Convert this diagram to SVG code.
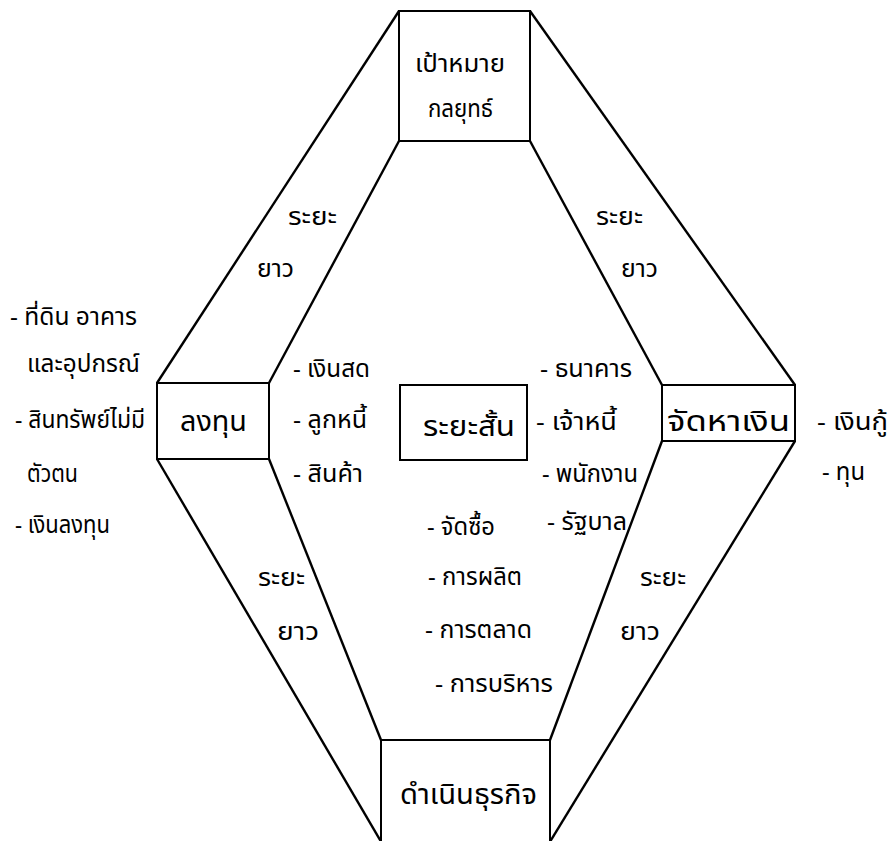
<svg xmlns="http://www.w3.org/2000/svg" width="890" height="841" viewBox="0 0 890 841">
<style>
text{font-family:"Noto Sans Thai","Noto Sans","DejaVu Sans",sans-serif;font-size:24px;fill:#000}
text.big{font-size:28px}
.box{fill:none;stroke:#000;stroke-width:2}
.edge{stroke:#000;stroke-width:2.4;fill:none}
</style>
<rect width="890" height="841" fill="#fff"/>
<g id="connectors">
<line class="edge" x1="399" y1="11" x2="157" y2="383"/>
<line class="edge" x1="399" y1="141" x2="269" y2="383"/>
<line class="edge" x1="530" y1="11" x2="795" y2="385"/>
<line class="edge" x1="530" y1="141" x2="662" y2="385"/>
<line class="edge" x1="157" y1="459" x2="383" y2="845"/>
<line class="edge" x1="269" y1="459" x2="381" y2="740"/>
<line class="edge" x1="662" y1="441" x2="550" y2="740"/>
<line class="edge" x1="795" y1="441" x2="548" y2="845"/>
</g>
<g id="labels-edges">
<text x="288" y="225" textLength="49" lengthAdjust="spacingAndGlyphs">ระยะ</text>
<text x="257" y="277" textLength="37" lengthAdjust="spacingAndGlyphs">ยาว</text>
<text x="596" y="225" textLength="47" lengthAdjust="spacingAndGlyphs">ระยะ</text>
<text x="621" y="277" textLength="37" lengthAdjust="spacingAndGlyphs">ยาว</text>
<text x="258" y="586" textLength="47" lengthAdjust="spacingAndGlyphs">ระยะ</text>
<text x="277" y="640" textLength="42" lengthAdjust="spacingAndGlyphs">ยาว</text>
<text x="640" y="586" textLength="46" lengthAdjust="spacingAndGlyphs">ระยะ</text>
<text x="620" y="640" textLength="40" lengthAdjust="spacingAndGlyphs">ยาว</text>
</g>
<g id="node-goal">
<rect class="box" x="399" y="11" width="131" height="130"/>
<text x="415" y="72" textLength="90" lengthAdjust="spacingAndGlyphs">เป้าหมาย</text>
<text x="428" y="117" textLength="65" lengthAdjust="spacingAndGlyphs">กลยุทธ์</text>
</g>
<g id="node-invest">
<rect class="box" x="157" y="383" width="112" height="76"/>
<text class="big" x="180" y="431" textLength="67" lengthAdjust="spacingAndGlyphs">ลงทุน</text>
</g>
<g id="node-finance">
<rect class="box" x="662" y="385" width="133" height="56"/>
<text class="big" x="667" y="431" textLength="123" lengthAdjust="spacingAndGlyphs">จัดหาเงิน</text>
</g>
<g id="node-short">
<rect class="box" x="400" y="385" width="127" height="75"/>
<text class="big" x="423" y="436" textLength="92" lengthAdjust="spacingAndGlyphs">ระยะสั้น</text>
</g>
<g id="node-operate">
<rect class="box" x="381" y="740" width="169" height="110"/>
<text class="big" x="400" y="804" textLength="137" lengthAdjust="spacingAndGlyphs">ดำเนินธุรกิจ</text>
</g>
<g id="list-invest-long">
<text x="10" y="325" textLength="127" lengthAdjust="spacingAndGlyphs">- ที่ดิน อาคาร</text>
<text x="27" y="372" textLength="113" lengthAdjust="spacingAndGlyphs">และอุปกรณ์</text>
<text x="15" y="428" textLength="130" lengthAdjust="spacingAndGlyphs">- สินทรัพย์ไม่มี</text>
<text x="27" y="482" textLength="51" lengthAdjust="spacingAndGlyphs">ตัวตน</text>
<text x="15" y="533" textLength="95" lengthAdjust="spacingAndGlyphs">- เงินลงทุน</text>
</g>
<g id="list-invest-short">
<text x="293" y="377" textLength="77" lengthAdjust="spacingAndGlyphs">- เงินสด</text>
<text x="293" y="428" textLength="74" lengthAdjust="spacingAndGlyphs">- ลูกหนี้</text>
<text x="293" y="482" textLength="70" lengthAdjust="spacingAndGlyphs">- สินค้า</text>
</g>
<g id="list-finance-short">
<text x="540" y="377" textLength="92" lengthAdjust="spacingAndGlyphs">- ธนาคาร</text>
<text x="536" y="430" textLength="81" lengthAdjust="spacingAndGlyphs">- เจ้าหนี้</text>
<text x="542" y="482" textLength="96" lengthAdjust="spacingAndGlyphs">- พนักงาน</text>
<text x="547" y="530" textLength="80" lengthAdjust="spacingAndGlyphs">- รัฐบาล</text>
</g>
<g id="list-operate">
<text x="427" y="535" textLength="68" lengthAdjust="spacingAndGlyphs">- จัดซื้อ</text>
<text x="428" y="585" textLength="94" lengthAdjust="spacingAndGlyphs">- การผลิต</text>
<text x="425" y="638" textLength="107" lengthAdjust="spacingAndGlyphs">- การตลาด</text>
<text x="435" y="692" textLength="118" lengthAdjust="spacingAndGlyphs">- การบริหาร</text>
</g>
<g id="list-finance-long">
<text x="817" y="430" textLength="71" lengthAdjust="spacingAndGlyphs">- เงินกู้</text>
<text x="822" y="480" textLength="43" lengthAdjust="spacingAndGlyphs">- ทุน</text>
</g>
</svg>
